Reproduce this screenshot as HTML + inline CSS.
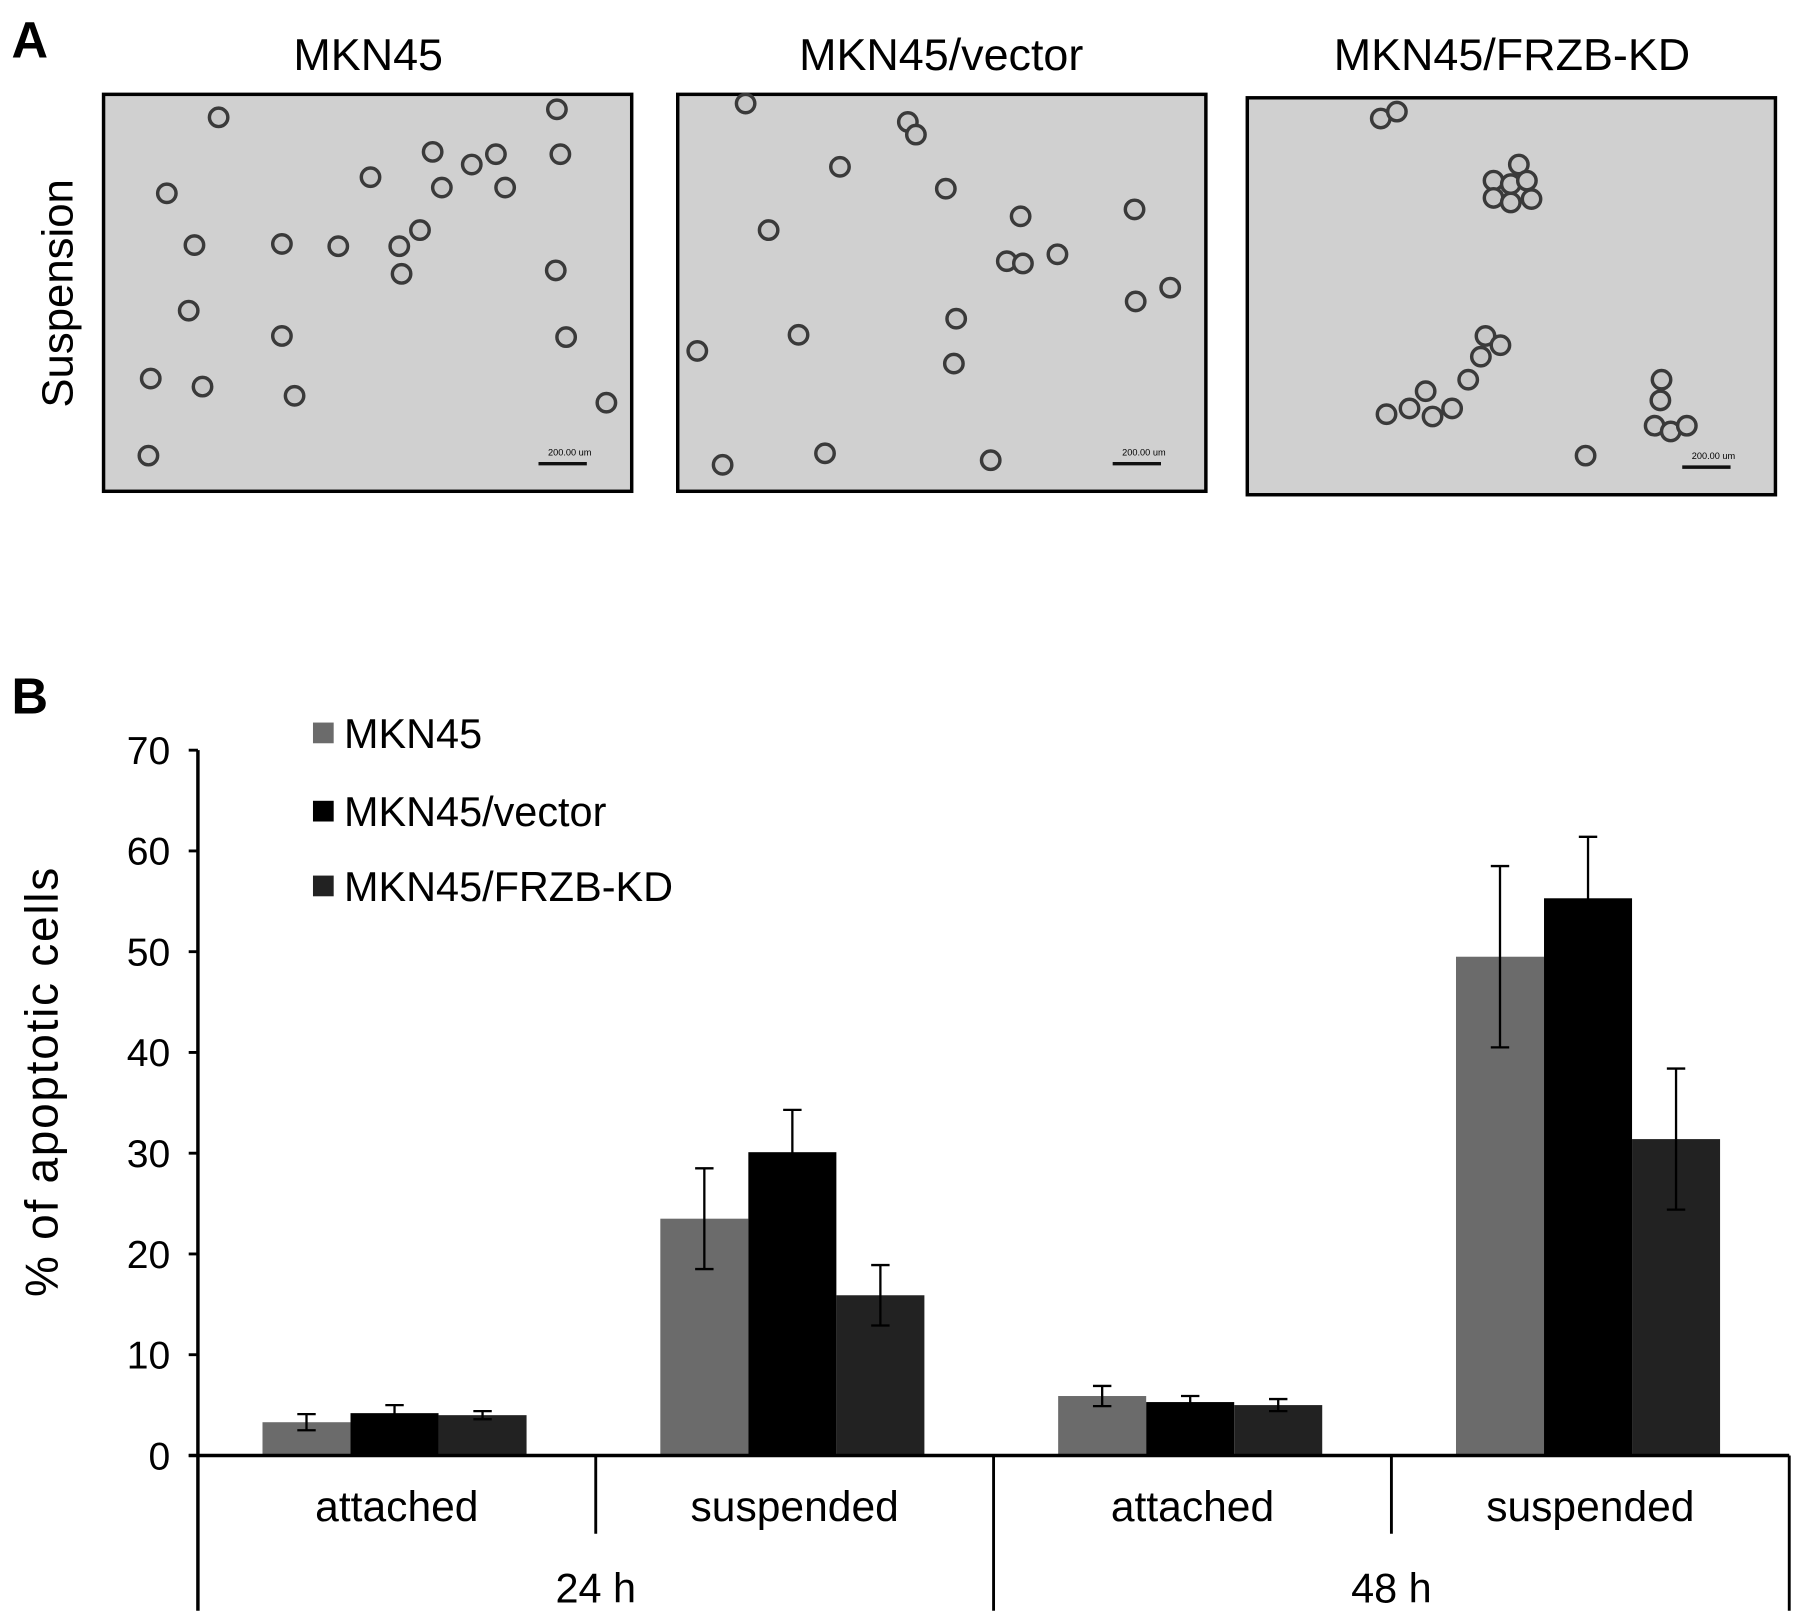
<!DOCTYPE html>
<html><head><meta charset="utf-8"><style>
html,body{margin:0;padding:0;background:#fff}
svg{display:block}
text{font-family:"Liberation Sans",Arial,sans-serif}
</style></head><body>
<svg id="fig" width="1795" height="1620" viewBox="0 0 1560 1408" preserveAspectRatio="none" xmlns="http://www.w3.org/2000/svg">
<text x="10" y="50" font-size="44" font-weight="bold">A</text>
<text x="320" y="61" font-size="39" text-anchor="middle">MKN45</text>
<text x="818" y="61" font-size="39" text-anchor="middle">MKN45/vector</text>
<text x="1314" y="61" font-size="39" text-anchor="middle">MKN45/FRZB-KD</text>
<text transform="translate(63,255) rotate(-90)" font-size="38" text-anchor="middle">Suspension</text>
<g id="micro"></g>

<text x="10" y="620" font-size="44" font-weight="bold">B</text>
<g id="chart"></g>
</svg>
<script>
// ---- micrographs ----
const panels=[[90,82],[589,82],[1084,85]];
const cellSets=[
[[190,102],[484,95],[376,132],[410,143],[431,134],[487,134],[322,154],[384,163],[439,163],[145,168],[365,200],[169,213],[245,212],[294,214],[347,214],[349,238],[483,235],[164,270],[245,292],[492,293],[131,329],[176,336],[256,344],[527,350],[129,396]],
[[648,90],[789,106],[796,117],[730,145],[822,164],[887,188],[986,182],[668,200],[919,221],[875,227],[889,229],[1017,250],[987,262],[831,277],[694,291],[606,305],[829,316],[717,394],[628,404],[861,400]],
[[1200,103],[1214,97],[1320,143],[1298,157],[1313,160],[1327,157],[1298,172],[1313,176],[1331,173],[1291,292],[1304,300],[1287,310],[1239,340],[1225,355],[1205,360],[1245,362],[1262,355],[1276,330],[1444,330],[1443,348],[1438,370],[1452,375],[1466,370],[1378,396]]
];
const NS="http://www.w3.org/2000/svg";
const micro=document.getElementById('micro');
function mk(tag,attrs,parent){const e=document.createElementNS(NS,tag);for(const k in attrs)e.setAttribute(k,attrs[k]);(parent||micro).appendChild(e);return e;}
panels.forEach((p,i)=>{
  const r=mk('rect',{x:p[0],y:p[1],width:459,height:345,fill:'#d0d0d0',stroke:'#000','stroke-width':3});
  
  
  cellSets[i].forEach(c=>{
    const ci=mk('circle',{cx:c[0],cy:c[1],r:8,fill:'#c8c8c8',stroke:'#3a3a3a','stroke-width':3});
    
    
  });
  const sb=mk('line',{x1:p[0]+378,x2:p[0]+420,y1:p[1]+321,y2:p[1]+321,stroke:'#111','stroke-width':3});
  
  
  const st=mk('text',{x:p[0]+424,y:p[1]+314,'font-size':8,'text-anchor':'end'});
  st.textContent='200.00 um';
  
  
});

// ---- chart data ----
const categories=['attached','suspended','attached','suspended'];
const timeGroups=['24 h','48 h'];
const seriesNames=['MKN45','MKN45/vector','MKN45/FRZB-KD'];
const valsMKN45=[3.3,23.5,5.9,49.5];
const valsVector=[4.2,30.1,5.3,55.3];
const valsKD=[4.0,15.9,5.0,31.4];
const errMKN45=[0.8,5.0,1.0,9.0];
const errVector=[0.8,4.2,0.6,6.1];
const errKD=[0.4,3.0,0.6,7.0];
const yTicks=[0,10,20,30,40,50,60,70];

const chart=document.getElementById('chart');
const X0=172,X1=1555,Y0=1265,Y70=652;
const yScale=v=>Y0-(v/70)*(Y0-Y70);
const groupW=(X1-X0)/categories.length;
const barW=76.5;
const xBar=(g,s)=>X0+groupW*g+(groupW-3*barW)/2-2+s*barW;
const colors=['#6b6b6b','#000000','#222222'];
const series=[valsMKN45,valsVector,valsKD];
const errs=[errMKN45,errVector,errKD];
function ck(tag,attrs){return mk(tag,attrs,chart);}

series.forEach((vals,s)=>{
  vals.forEach((v,g)=>{
    const x=xBar(g,s);
    const b=ck('rect',{x:x,y:yScale(v),width:barW,height:Y0-yScale(v),fill:colors[s]});
    
    
    const cx=x+barW/2, hi=yScale(v+errs[s][g]), lo=yScale(v-errs[s][g]);
    const e=ck('path',{d:`M${cx},${hi}V${lo}M${cx-8},${hi}H${cx+8}M${cx-8},${lo}H${cx+8}`,stroke:'#000','stroke-width':2,fill:'none'});
    
    
  });
});
// axes
const ya=ck('line',{x1:X0,x2:X0,y1:Y70,y2:1400,stroke:'#000','stroke-width':3});


const xa=ck('line',{x1:X0-8,x2:X1,y1:Y0,y2:Y0,stroke:'#000','stroke-width':3});


yTicks.forEach(t=>{
  const y=yScale(t);
  const tk=ck('line',{x1:X0-8,x2:X0,y1:y,y2:y,stroke:'#000','stroke-width':2.5});
  
  
  const tl=ck('text',{x:X0-24,y:y+12,'font-size':34,'text-anchor':'end'});
  tl.textContent=t;
  
  
});
for(let g=1;g<=categories.length;g++){
  const x=X0+groupW*g;
  const d=ck('line',{x1:x,x2:x,y1:Y0,y2:(g%2===0)?1400:1333,stroke:'#000','stroke-width':2.5});
  
  
}
categories.forEach((c,g)=>{
  const t=ck('text',{x:X0+groupW*(g+0.5),y:1322,'font-size':37,'text-anchor':'middle'});
  t.textContent=c;
  
  
});
timeGroups.forEach((c,g)=>{
  const t=ck('text',{x:X0+groupW*(2*g+1),y:1393,'font-size':36,'text-anchor':'middle'});
  t.textContent=c;
  
  
});
const yt=ck('text',{transform:'translate(50,940) rotate(-90)','font-size':40,'text-anchor':'middle','letter-spacing':'1.5'});
yt.textContent='% of apoptotic cells';


// legend
const legY=[637,705,770];
seriesNames.forEach((n,i)=>{
  const sq=ck('rect',{x:272,y:legY[i]-9,width:18,height:18,fill:colors[i]});
  
  
  const t=ck('text',{x:299,y:legY[i]+13,'font-size':36});
  t.textContent=n;
  
  
});
</script>
</body></html>
